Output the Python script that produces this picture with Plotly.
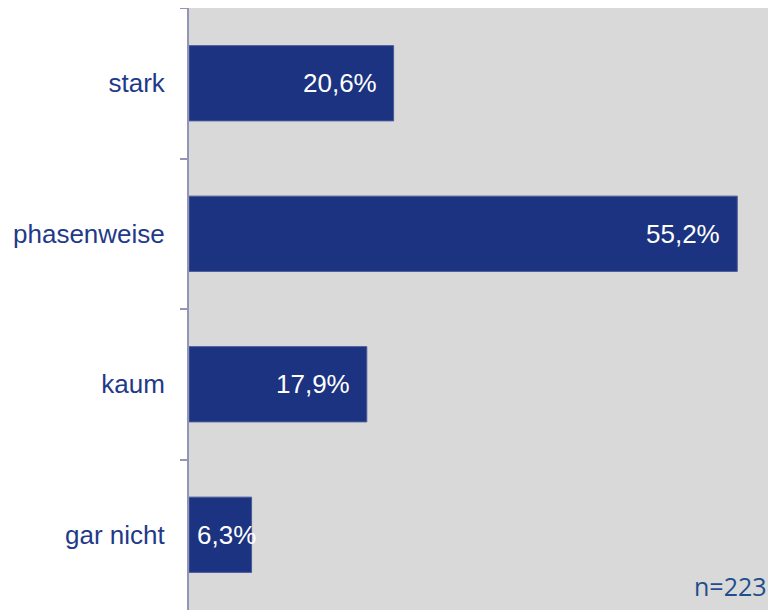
import plotly.graph_objects as go

categories = ["stark", "phasenweise", "kaum", "gar nicht"]
values = [20.6, 55.2, 17.9, 6.3]
sample_note = "n=223"

bar_color = "#1b3380"
label_color = "#1f3a88"
axis_color = "#9494b8"


def fmt(v):
    return f"{v:.1f}".replace(".", ",") + "%"


fig = go.Figure()
fig.add_trace(
    go.Bar(
        x=values, y=categories,
        orientation="h",
        marker=dict(color=bar_color, line=dict(color="#4a5a98", width=1)),
        hoverinfo="skip",
        showlegend=False,
    )
)

# value labels inside the bar end, small bars get the label from the left
for cat, v in zip(categories, values):
    if v < 10:
        fig.add_annotation(x=0, y=cat, text=fmt(v), showarrow=False,
                           xanchor="left", xshift=6,
                           font=dict(color="white", size=26,
                                     family="Liberation Sans, Arial"))
    else:
        fig.add_annotation(x=v, y=cat, text=fmt(v), showarrow=False,
                           xanchor="right", xshift=-15,
                           font=dict(color="white", size=26,
                                     family="Liberation Sans, Arial"))

fig.add_annotation(
    x=1, y=0, xref="paper", yref="paper",
    text=sample_note, showarrow=False,
    xanchor="right", yanchor="bottom", xshift=-7, yshift=5,
    font=dict(color="#1f4e8c", size=25, family="Open Sans"),
)

fig.update_xaxes(range=[0, 59.1], visible=False, fixedrange=True)
fig.update_yaxes(
    autorange="reversed",
    showline=True, linecolor=axis_color, linewidth=2,
    ticks="outside", tickson="boundaries", ticklen=7,
    tickcolor=axis_color, tickwidth=2,
    showgrid=False,
    ticklabelstandoff=17,
    tickfont=dict(color=label_color, size=26, family="Liberation Sans, Arial"),
)

# page body has an 8px margin, so the figure is sized to the remaining window
fig.update_layout(
    width=768, height=602,
    margin=dict(l=181, r=0, t=0, b=0),
    bargap=0.5,
    plot_bgcolor="#d9d9d9",
    paper_bgcolor="white",
)

fig.write_html("out.html")
